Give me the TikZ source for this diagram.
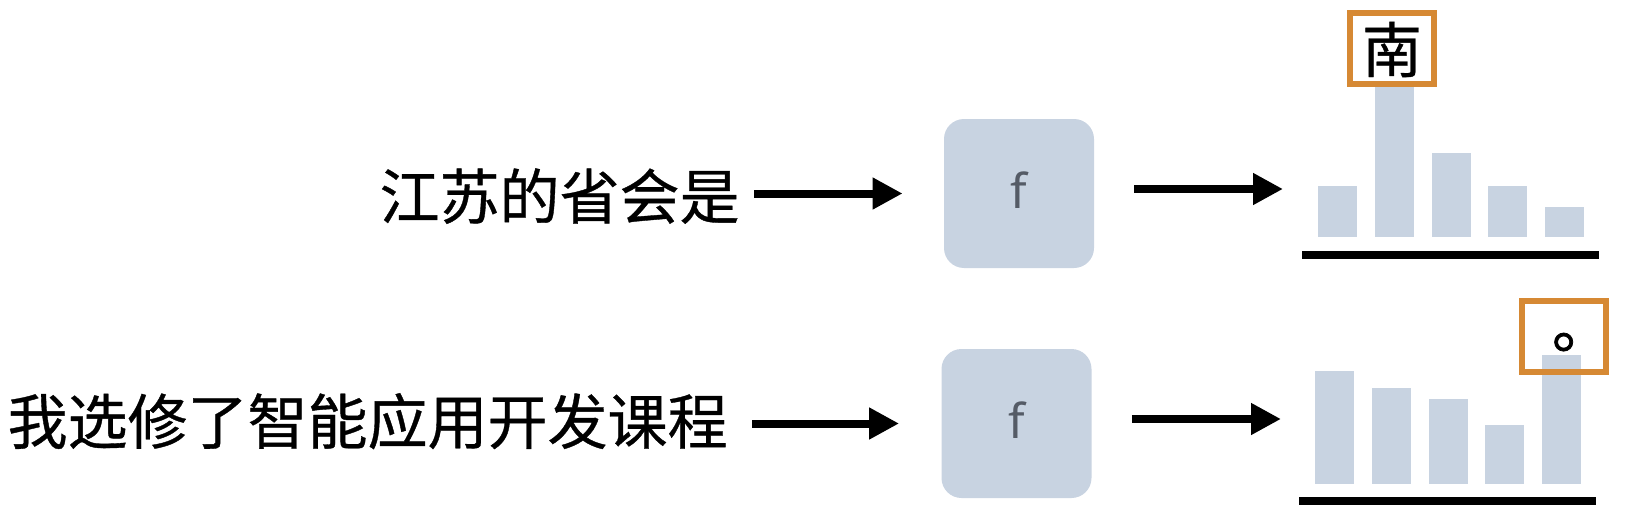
\documentclass[tikz,border=0pt]{standalone}
\usepackage{fontspec}
\newfontfamily\cjk[FakeBold=0.6]{Noto Sans CJK SC}
\newfontfamily\cjktc[FakeBold=1.2]{Noto Sans CJK TC}
\newfontfamily\latin{Noto Sans}
\usepackage{tikz}
\usetikzlibrary
  {
    arrows.meta,              % Triangle arrow heads
    calc,
  }

\definecolor{boxblue}{RGB}{200,211,225}
\definecolor{pickorange}{RGB}{214,137,52}
\definecolor{fgray}{RGB}{85,91,102}

\tikzset{
  query/.style={font=\cjk\fontsize{30pt}{36pt}\selectfont, inner sep=0, anchor=base east},
  model/.style={fill=boxblue, rounded corners=10pt, minimum width=75pt, minimum height=74.5pt,
                inner sep=0, text depth=3pt, text=fgray, font=\latin\fontsize{24pt}{28pt}\selectfont},
  flow/.style={line width=4pt, -{Triangle[length=15pt,width=15pt]}},
  bar/.style={fill=boxblue},
  axis/.style={line width=4pt},
  pick/.style={draw=pickorange, line width=3pt, minimum width=42pt, minimum height=35.5pt,
               inner sep=0, text height=29.6pt, text depth=5.8pt,
               font=\cjk\fontsize{30pt}{36pt}\selectfont},
}

\begin{document}
\begin{tikzpicture}[x=0.5pt,y=-0.5pt]
    \useasboundingbox (0,0) rectangle (1640,530);

    % first query
    \node (q1) [query] at (740,219) {江苏的省会是};
    \node (f1) [model] at (1019,193.5) {f};
    \coordinate (o1) at (1283,189);
    \draw[flow, shorten <=7pt, shorten >=20.5pt] (q1.east |- f1.west) -- (f1.west);
    \draw[flow, shorten <=20pt] (f1.east |- o1) -- (o1);
    \foreach \h [count=\i from 0] in {186,86,153,186,207}
      \fill[bar] ({1318+56.75*\i},237) rectangle ({1357+56.75*\i},\h);
    \draw[axis] (1302,255) -- (1599,255);
    \node (t1) [pick] at (1392,48.5) {南};

    % second query
    \node (q2) [query] at (728,444) {我选修了智能应用开发课程};
    \node (f2) [model] at (1016.5,423.5) {f};
    \coordinate (o2) at (1281,419);
    \draw[flow, shorten <=12pt, shorten >=21pt] (q2.east |- f2.west) -- (f2.west);
    \draw[flow, shorten <=20pt] (f2.east |- o2) -- (o2);
    \foreach \h [count=\i from 0] in {371,388,399,425,355}
      \fill[bar] ({1315+56.75*\i},484) rectangle ({1354+56.75*\i},\h);
    \draw[axis] (1299,501) -- (1596,501);
    \node (t2) [pick] at (1563.5,336) {\cjktc\raisebox{-2.5pt}{。}};
\end{tikzpicture}
\end{document}
